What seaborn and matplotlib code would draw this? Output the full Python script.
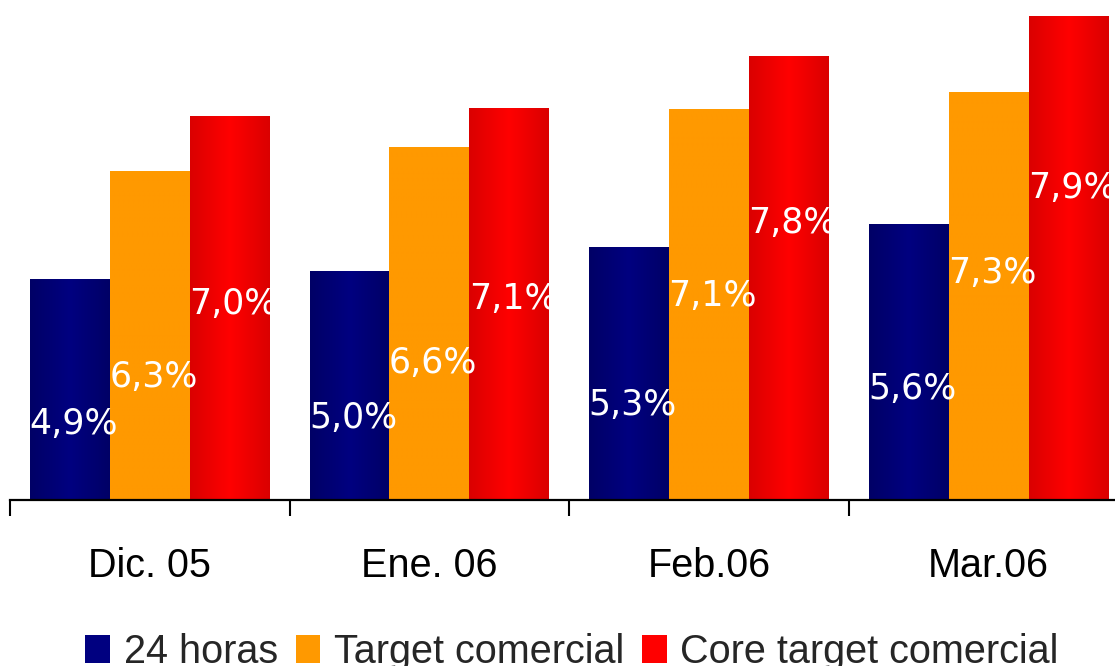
import numpy as np
import pandas as pd
import matplotlib
matplotlib.use("Agg")
import matplotlib.pyplot as plt
import seaborn as sns
from matplotlib.colors import LinearSegmentedColormap
from matplotlib.patches import Patch

# ---- data ----
months = ["Dic. 05", "Ene. 06", "Feb.06", "Mar.06"]
series = ["24 horas", "Target comercial", "Core target comercial"]
vals_24h = [4.91, 5.01, 5.31, 5.59]
vals_target = [6.26, 6.56, 7.03, 7.24]
vals_core = [6.94, 7.04, 7.70, 8.19]
labels_24h = ["4,9%", "5,0%", "5,3%", "5,6%"]
labels_target = ["6,3%", "6,6%", "7,1%", "7,3%"]
labels_core = ["7,0%", "7,1%", "7,8%", "7,9%"]
# label baselines (placement inside bars)
laby_24h = [2.98, 3.05, 3.21, 3.41]
laby_target = [3.56, 3.74, 4.58, 4.86]
laby_core = [4.48, 4.54, 5.49, 5.93]

df = pd.DataFrame({
    "mes": months * 3,
    "serie": [series[0]] * 4 + [series[1]] * 4 + [series[2]] * 4,
    "valor": vals_24h + vals_target + vals_core,
})

colors = {"24 horas": "#000080", "Target comercial": "#FF9900",
          "Core target comercial": "#FF0000"}
gradients = {
    "24 horas": ["#000066", "#000080", "#000066"],
    "Target comercial": ["#FF9900", "#FF9900", "#FF9900"],
    "Core target comercial": ["#DA0000", "#FF0000", "#DA0000"],
}

sns.set_theme(style="white")
plt.rcParams["font.family"] = ["DejaVu Sans"]

fig = plt.figure(figsize=(11.15, 6.66), dpi=100)
W, H = 1115, 666
ax = fig.add_axes([10 / W, (H - 500) / H, 1105 / W, 500 / H])

sns.barplot(data=df, x="mes", y="valor", hue="serie", palette=colors,
            width=6 / 7, gap=0, saturation=1, legend=False, ax=ax,
            order=months, hue_order=series)

ymin, ymax = 2.15, 8.4
xlim = (-0.5, -0.5 + 1105 / 279.6)

# gradient fill over each bar
grad = np.linspace(0, 1, 256).reshape(1, -1)
bars = [p for p in ax.patches]
for si, s in enumerate(series):
    cmap = LinearSegmentedColormap.from_list(s, gradients[s])
    for mi in range(len(months)):
        p = bars[si * len(months) + mi]
        x0 = p.get_x()
        w = p.get_width()
        h = p.get_height()
        ax.imshow(grad, cmap=cmap, aspect="auto",
                  extent=(x0, x0 + w, ymin, h), zorder=3)

all_labels = [labels_24h, labels_target, labels_core]
all_laby = [laby_24h, laby_target, laby_core]
for si, s in enumerate(series):
    for mi in range(len(months)):
        p = bars[si * len(months) + mi]
        ax.annotate(all_labels[si][mi], xy=(p.get_x(), all_laby[si][mi]),
                    xytext=(-0.5, 0), textcoords="offset points",
                    ha="left", va="baseline", color="white",
                    fontsize=25, family="DejaVu Sans", zorder=5,
                    annotation_clip=False)

ax.set_xlim(*xlim)
ax.set_ylim(ymin, ymax)
ax.set_xlabel("")
ax.set_ylabel("")
ax.set_yticks([])
for sp in ["left", "right", "top"]:
    ax.spines[sp].set_visible(False)
ax.spines["bottom"].set_linewidth(1.6)
ax.spines["bottom"].set_color("black")
ax.spines["bottom"].set_zorder(6)

ax.set_xticks(range(len(months)))
ax.set_xticklabels(months, family="Liberation Sans", fontsize=28.5, color="black")
ax.tick_params(axis="x", which="major", length=0, pad=34)
ax.set_xticks([-0.5, 0.5, 1.5, 2.5], minor=True)
ax.tick_params(axis="x", which="minor", length=11.5, width=1.5, color="black",
               direction="out", bottom=True)

handles = [Patch(facecolor=colors[s], edgecolor="none") for s in series]
fig.legend(handles, series, loc="lower center", bbox_to_anchor=(572 / W, -5 / H),
           ncol=3, frameon=False, prop={"family": "Liberation Sans", "size": 28.5},
           handlelength=0.62, handleheight=0.72, handletextpad=0.35,
           columnspacing=0.45, borderpad=0, borderaxespad=0)

fig.savefig("out.png", dpi=100, facecolor="white")
